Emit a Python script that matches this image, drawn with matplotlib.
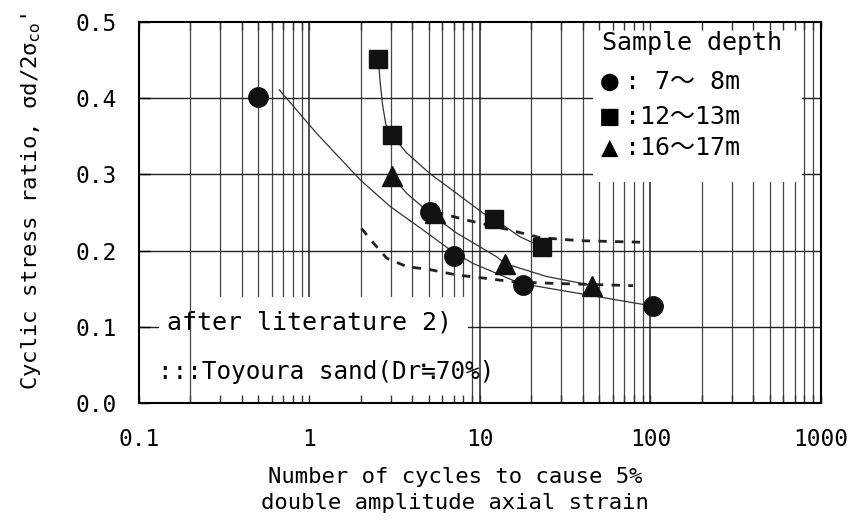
import numpy as np
import matplotlib
matplotlib.use('Agg')
import matplotlib.pyplot as plt
from matplotlib.patches import Rectangle

plt.rcParams['font.family'] = ['DejaVu Sans Mono', 'Noto Sans CJK JP']

# test results (cycles to 5% DA strain, cyclic stress ratio)
n_7_8 = [0.50, 5.1, 7.0, 17.9, 103]
r_7_8 = [0.401, 0.251, 0.193, 0.155, 0.127]
n_12_13 = [2.53, 3.03, 12.0, 23.0]
r_12_13 = [0.451, 0.352, 0.242, 0.205]
n_16_17 = [3.03, 5.45, 14.0, 45.2]
r_16_17 = [0.298, 0.249, 0.182, 0.153]

# fitted curves
fit_7_8_n = [0.665, 1.10, 1.98, 2.97, 4.64, 6.97, 9.14, 17.2, 42.3, 104]
fit_7_8_r = [0.411, 0.354, 0.293, 0.258, 0.227, 0.198, 0.183, 0.157, 0.142, 0.127]
fit_12_13_n = [2.53, 2.60, 2.68, 2.80, 3.03, 3.72, 5.09, 7.30, 10.45, 12.0, 17.2, 23.0]
fit_12_13_r = [0.451, 0.420, 0.392, 0.366, 0.352, 0.328, 0.301, 0.275, 0.249, 0.242, 0.218, 0.205]
fit_16_17_n = [3.03, 3.72, 5.09, 7.30, 12.5, 14.0, 24.6, 46.2]
fit_16_17_r = [0.298, 0.275, 0.249, 0.223, 0.192, 0.183, 0.166, 0.154]

# Toyoura sand (Dr~70%), after literature 2)
toy_up_n = [5.45, 8.36, 15.0, 22.5, 38.6, 88]
toy_up_r = [0.251, 0.240, 0.227, 0.217, 0.213, 0.211]
toy_lo_n = [2.02, 2.37, 2.84, 3.72, 5.09, 7.30, 10.45, 15.7, 26.9, 79]
toy_lo_r = [0.229, 0.210, 0.190, 0.179, 0.175, 0.168, 0.164, 0.159, 0.157, 0.154]

xticks = [0.1, 1, 10, 100, 1000]
xticklabels = ['0.1', '1', '10', '100', '1000']
yticks = [0.0, 0.1, 0.2, 0.3, 0.4, 0.5]

fig = plt.figure(figsize=(8.54, 5.29), dpi=100)
ax = fig.add_axes([139/854, 1-403/529, 682/854, 381/529])
ax.set_xscale('log')
ax.set_xlim(0.1, 1000)
ax.set_ylim(0, 0.5)

# log-paper grid
gx = [m*10.0**e for e in range(-1, 3) for m in range(1, 10)][1:]
for v in gx:
    major = np.isclose(np.log10(v), round(np.log10(v)))
    z = 1.7 if np.isclose(v, 0.2) else 1
    ax.axvline(v, color='#444444', lw=1.3 if major else 0.9, zorder=z)
for v in yticks[1:-1]:
    ax.axhline(v, color='#222222', lw=1.0, zorder=1)

# blank areas behind the notes
ax.add_patch(Rectangle((0.666, 0.58), 0.306, 0.42, transform=ax.transAxes,
                       facecolor='white', edgecolor='none', zorder=1.5))
ax.add_patch(Rectangle((0.03, 0.0), 0.452, 0.278, transform=ax.transAxes,
                       facecolor='white', edgecolor='none', zorder=1.5))

ax.plot(fit_7_8_n, fit_7_8_r, color='#333333', lw=0.9, zorder=2)
ax.plot(fit_12_13_n, fit_12_13_r, color='#333333', lw=0.9, zorder=2)
ax.plot(fit_16_17_n, fit_16_17_r, color='#333333', lw=0.9, zorder=2)
ax.plot(toy_up_n, toy_up_r, color='#222222', lw=2.0, dashes=(3, 3), zorder=2)
ax.plot(toy_lo_n, toy_lo_r, color='#222222', lw=2.0, dashes=(3, 3), zorder=2)

ax.plot(n_7_8, r_7_8, 'o', color='#111111', ms=14, zorder=3)
ax.plot(n_12_13, r_12_13, 's', color='#111111', ms=13, zorder=3)
ax.plot(n_16_17, r_16_17, '^', color='#111111', ms=14, zorder=3)

ax.set_xticks(xticks)
ax.set_xticklabels(xticklabels)
ax.set_yticks(yticks)
ax.set_yticklabels(['%.1f' % v for v in yticks])
ax.xaxis.set_minor_formatter(plt.NullFormatter())
ax.tick_params(axis='x', which='both', direction='in', top=True, bottom=True,
               length=6, width=1, labelsize=16.5, pad=18, color='#333333')
ax.tick_params(axis='y', which='both', direction='in', length=8, width=1,
               labelsize=16.5, pad=16)
for s in ax.spines.values():
    s.set_linewidth(1.5)
    s.set_zorder(4)

ax.set_xlabel('Number of cycles to cause 5%\ndouble amplitude axial strain',
              fontsize=16, linespacing=1.4, va='top')
ax.xaxis.set_label_coords(0.463, -0.168)
ax.set_ylabel("Cyclic stress ratio, σd/2σ$_{\\mathrm{co}}$'", fontsize=16)
ax.yaxis.set_label_coords(-0.141, 0.528)

# notes
tr = ax.transAxes
ax.text(0.679, 0.945, 'Sample depth', fontsize=18, transform=tr, va='center', zorder=5)
marks = ['●', '■', '▲']
rows = [': 7～ 8m', ':12～13m', ':16～17m']
ys = [0.8425, 0.751, 0.669]
for mk, lab, y in zip(marks, rows, ys):
    ax.text(0.677, y, mk, fontsize=21, transform=tr, va='center', zorder=5)
    ax.text(0.7126, y, lab, fontsize=18, transform=tr, va='center', zorder=5)

ax.text(0.041, 0.21, 'after literature 2)', fontsize=18, transform=tr,
        va='center', zorder=5)
ax.text(0.028, 0.081, ':::Toyoura sand(Dr≒70%)', fontsize=17.5, transform=tr,
        va='center', zorder=5)

fig.savefig('out.png', dpi=100)
